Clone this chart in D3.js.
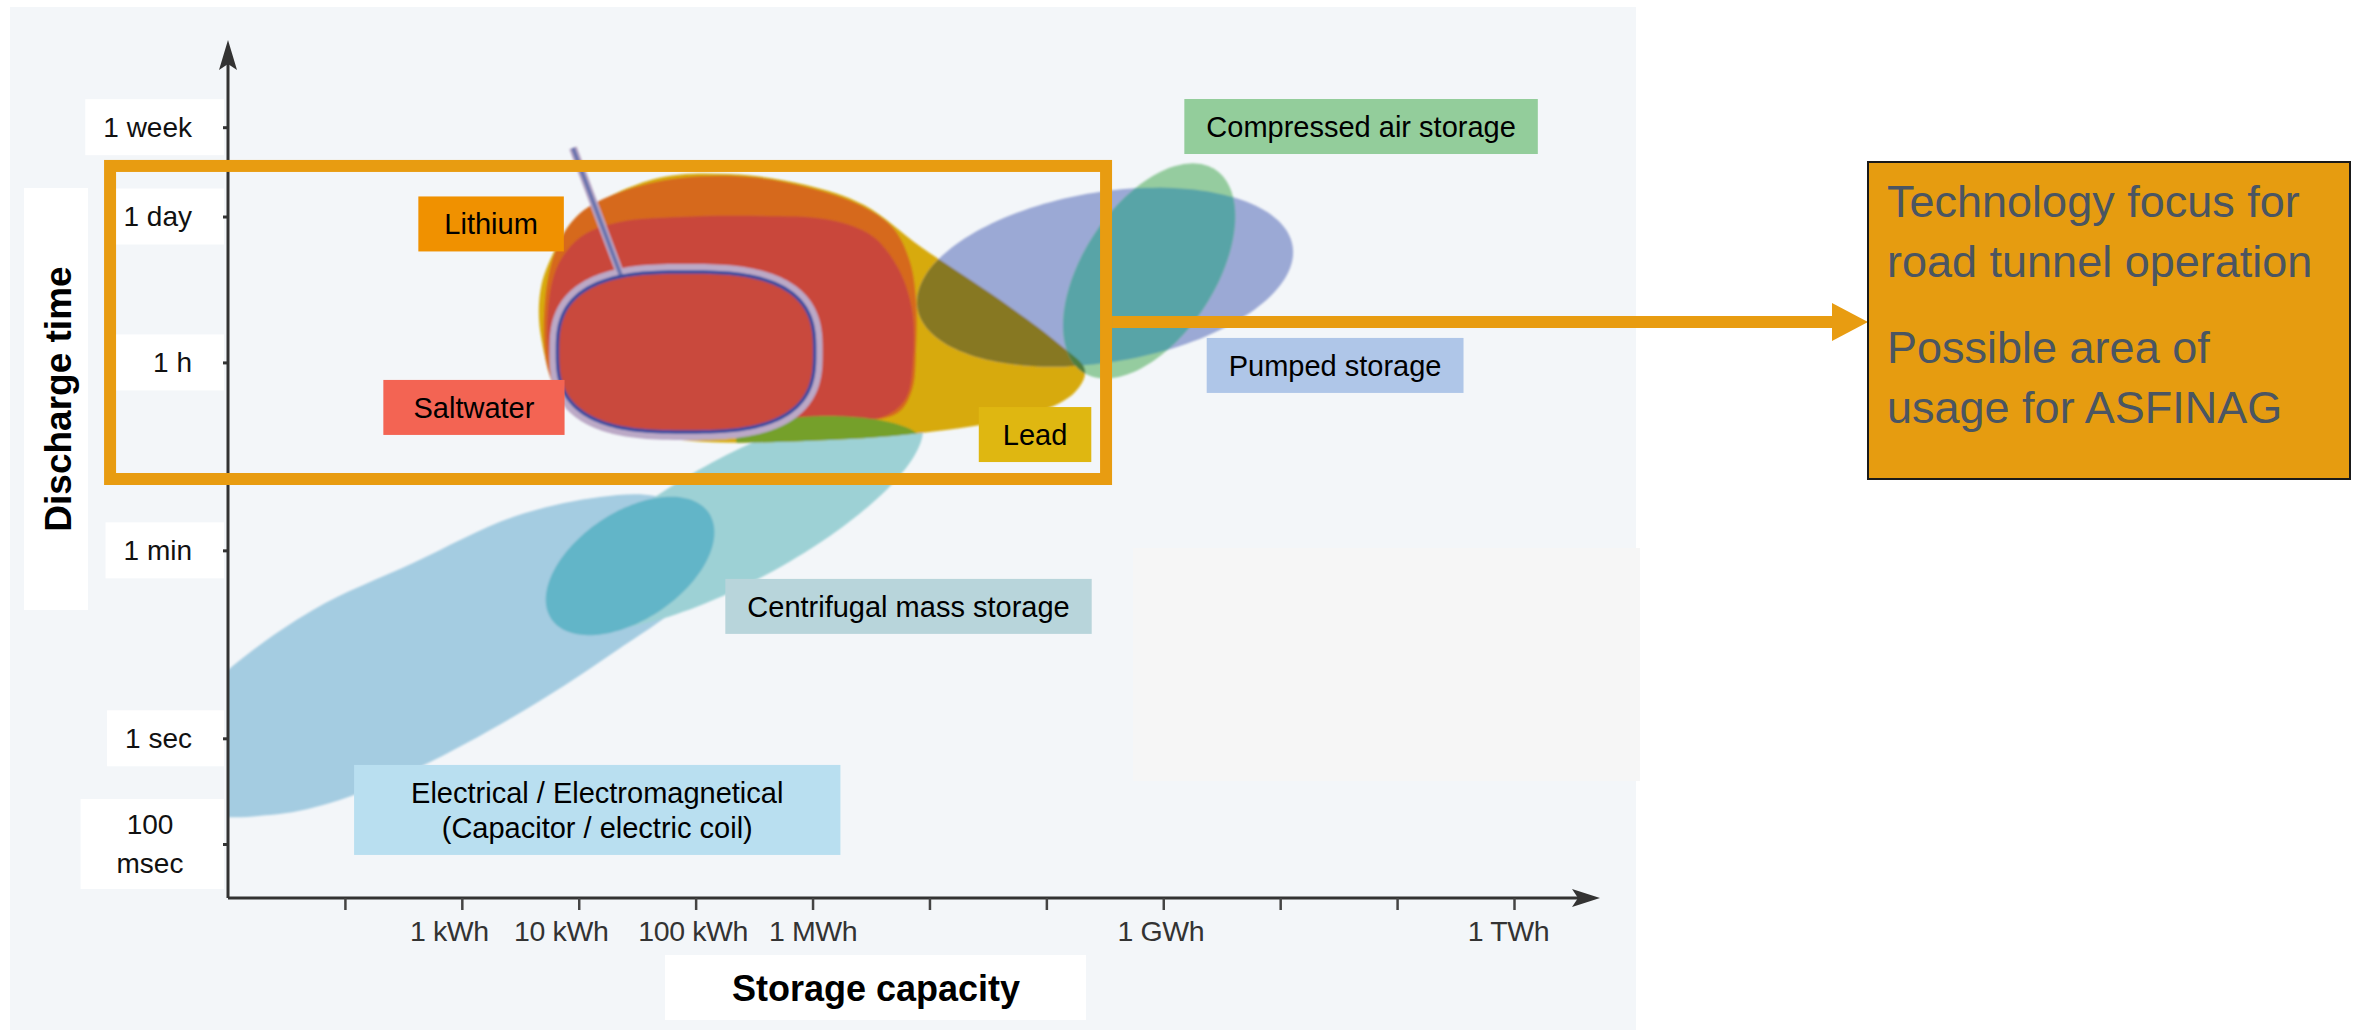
<!DOCTYPE html>
<html>
<head>
<meta charset="utf-8">
<script src="https://cdn.jsdelivr.net/npm/d3@7"></script>
<style>
  html, body { margin: 0; padding: 0; background: #ffffff; }
  svg { display: block; font-family: "Liberation Sans", Arial, sans-serif; }
</style>
</head>
<body>
<svg id="chart" width="2354" height="1036"></svg>
<script>
// ---------- data ----------
// storage capacity axis (Wh): one tick per decade, labels on some of them
const capacityTicks = [1e2, 1e3, 1e4, 1e5, 1e6, 1e7, 1e8, 1e9, 1e10, 1e11, 1e12];
const capacityLabels = { 1e3: "1 kWh", 1e4: "10 kWh", 1e5: "100 kWh", 1e6: "1 MWh", 1e9: "1 GWh", 1e12: "1 TWh" };

// discharge time axis (seconds)
const durationTicks = [0.1, 1, 60, 3600, 86400, 604800];
const durationLabels = [["100", "msec"], ["1 sec"], ["1 min"], ["1 h"], ["1 day"], ["1 week"]];

// elliptical technology regions: centre (Wh, s), half axes in decades, tilt in degrees
const flywheelSpan = { capacity: 2.4e5, duration: 121,    major: 1.80,  minor: 0.574, tilt: 31.5 };
const flywheelCore = { capacity: 2.75e4, duration: 42.7,  major: 0.842, minor: 0.491, tilt: 39.4 };
const pumped       = { capacity: 3.18e8, duration: 2.31e4, major: 1.631, minor: 0.802, tilt: 11 };
const compressed   = { capacity: 7.57e8, duration: 2.64e4, major: 1.115, minor: 0.580, tilt: 61.5 };
// where the flywheel band runs under the lead region
const leadFlywheel = { capacity: 1.36e6, duration: 664,   major: 0.787, minor: 0.227, tilt: 0 };

// outlined regions as [Wh, s]
const electricalOutline = [
  [10, 4.43], [53.3, 16.4], [383, 45.5], [2740, 124], [1.52e4, 192], [4.5e4, 196],
  [1.09e5, 130], [1.38e5, 60.4], [8.95e4, 22.7], [1.96e4, 6.41], [2740, 1.59], [383, 0.50],
  [74.6, 0.244], [22.9, 0.188], [7.0, 0.201], [4.29, 0.50], [5.22, 2.07]
];
const leadOutline = [
  [9.66e3, 8.55e4], [4.33e4, 1.95e5], [1.97e5, 2.18e5], [8.79e5, 1.72e5], [2.76e6, 1.11e5],
  [8.47e6, 4.45e4], [4.02e7, 1.40e4], [1.31e8, 5.26e3], [2.14e8, 3.05e3], [1.76e8, 1.89e3],
  [8.17e7, 1.20e3], [8.47e6, 773], [8.79e5, 650], [9.14e4, 650], [2.05e4, 863],
  [7.64e3, 1.46e3], [4.76e3, 6.27e3], [4.76e3, 1.86e4], [6.52e3, 4.55e4]
];
const lithiumOutline = [
  [5.15e3, 1.40e4], [6.52e3, 4.45e4], [1.03e4, 9.33e4], [2.25e4, 1.47e5], [7.36e4, 2.00e5],
  [2.92e5, 2.04e5], [9.53e5, 1.61e5], [2.55e6, 1.11e5], [4.89e6, 6.73e4], [6.82e6, 3.21e4],
  [7.67e6, 1.40e4], [7.67e6, 4.72e3], [7.10e6, 1.97e3], [5.38e6, 1.20e3], [2.09e6, 960],
  [5.27e5, 773], [1.09e5, 710], [2.25e4, 826], [8.43e3, 1.28e3], [5.46e3, 3.05e3]
];
const lithiumCoreOutline = [
  [5.46e3, 1.13e4], [6.65e3, 3.01e4], [1.07e4, 5.65e4], [2.25e4, 7.67e4], [7.36e4, 8.55e4],
  [3.56e5, 8.73e4], [1.41e6, 8.00e4], [3.23e6, 5.65e4], [5.38e6, 2.81e4], [7.10e6, 1.13e4],
  [7.24e6, 3.79e3], [6.31e6, 1.66e3], [4.17e6, 1.12e3], [1.41e6, 960], [2.92e5, 791],
  [4.95e4, 791], [1.52e4, 1.03e3], [7.64e3, 1.66e3], [5.68e3, 3.79e3]
];
// saltwater: rounded region, centre (Wh, s) and half spans in decades
const saltwater = { capacity: 8.28e4, duration: 4.52e3, major: 1.10, minor: 0.757, power: 2.8 };
const saltwaterLeader = [[2.30e4, 2.37e4], [8.93e3, 3.85e5]];

// focus area (Wh, s)
const focusCapacity = [0.98, 3.24e8];
const focusDuration = [284, 2.6e5];

// technology labels and where their tags sit (Wh, s)
const techNames = ["Lithium", "Saltwater", "Lead", "Compressed air storage", "Pumped storage",
  "Centrifugal mass storage", ["Electrical / Electromagnetical", "(Capacitor / electric coil)"]];
const techAnchors = [[1.78e3, 7.35e4], [1.27e3, 1.35e3], [8.0e7, 748], [4.92e10, 6.14e5],
  [2.95e10, 3.37e3], [6.62e6, 17.7], [1.44e4, 0.21]];

const focusNote = [["Technology focus for", "road tunnel operation"], ["Possible area of", "usage for ASFINAG"]];
const axisTitles = { x: "Storage capacity", y: "Discharge time" };

// ---------- styles ----------
const tagFills = ["#f09100", "#f36453", "#dfb711", "#93cd9b", "#afc6e8", "#b8d5db", "#b9dff0"];
const tagPad = [26, 30, 24, 22, 22, 22, 57];
const col = {
  panel: "#f3f6f9", electrical: "#a4cce1", span: "#9dd1d5", core: "#62b5c8",
  lead: "#d7aa0c", leadSpan: "#74a02b", lithium: "#d6691d", lithiumCore: "#c9473b",
  saltHalo: "#bba9c6", saltFill: "#c9483d", saltLine: "#3b4b9f", leader: "#6a73ad",
  pumped: "#9ba9d5", compressed: "#95cc9f", leadPumped: "#877822",
  pumpedCompressed: "#59a4a7", leadCompressed: "#4f7d3e", orange: "#e89c11", axis: "#333"
};
const xNudge = { 1e3: -13, 1e4: -18, 1e5: -3, 1e9: -3, 1e12: -6 };

// ---------- layout ----------
const frame = { left: 228, bottom: 898, right: 1600, top: 40 };
const x = d3.scaleLog().domain([10, 1e12]).range([228, 1514]);
const y = d3.scaleLog().domain([0.1, 604800]).range([844, 127.2]);

const svg = d3.select("#chart");
const defs = svg.append("defs");

// page background and light panel
svg.append("rect").attr("width", 2354).attr("height", 1036).attr("fill", "#fff");
svg.append("rect").attr("x", 10).attr("y", 7).attr("width", 1626).attr("height", 1023).attr("fill", col.panel);
svg.append("rect").attr("x", 1133).attr("y", 548).attr("width", 507).attr("height", 233).attr("fill", "#f6f6f6");

// ---------- shape helpers ----------
function ellipsePoints(e, n = 160) {
  const lc = Math.log10(e.capacity), ld = Math.log10(e.duration), t = e.tilt * Math.PI / 180;
  return d3.range(n).map(i => {
    const a = i / n * 2 * Math.PI;
    const u = e.major * Math.cos(a), v = e.minor * Math.sin(a);
    return [Math.pow(10, lc + u * Math.cos(t) - v * Math.sin(t)),
            Math.pow(10, ld + u * Math.sin(t) + v * Math.cos(t))];
  });
}
function superellipsePoints(s, n = 200) {
  const lc = Math.log10(s.capacity), ld = Math.log10(s.duration), p = 2 / s.power;
  return d3.range(n).map(i => {
    const a = i / n * 2 * Math.PI, c = Math.cos(a), sn = Math.sin(a);
    return [Math.pow(10, lc + s.major * Math.sign(c) * Math.pow(Math.abs(c), p)),
            Math.pow(10, ld + s.minor * Math.sign(sn) * Math.pow(Math.abs(sn), p))];
  });
}
const polyLine = d3.line().x(d => x(d[0])).y(d => y(d[1])).curve(d3.curveLinearClosed);
const smoothLine = d3.line().x(d => x(d[0])).y(d => y(d[1])).curve(d3.curveCatmullRomClosed.alpha(0.5));

const paths = {
  electrical: smoothLine(electricalOutline),
  span: polyLine(ellipsePoints(flywheelSpan)),
  core: polyLine(ellipsePoints(flywheelCore)),
  leadFlywheel: polyLine(ellipsePoints(leadFlywheel)),
  pumped: polyLine(ellipsePoints(pumped)),
  compressed: polyLine(ellipsePoints(compressed)),
  lead: smoothLine(leadOutline),
  lithium: smoothLine(lithiumOutline),
  lithiumCore: smoothLine(lithiumCoreOutline),
  saltwater: polyLine(superellipsePoints(saltwater))
};

// clip paths
defs.append("clipPath").attr("id", "plotClip").append("rect")
  .attr("x", frame.left).attr("y", 0).attr("width", frame.right - frame.left).attr("height", frame.bottom);
["lead", "pumped"].forEach(k => defs.append("clipPath").attr("id", "clip-" + k).append("path").attr("d", paths[k]));
const soft = defs.append("filter").attr("id", "soft").attr("filterUnits", "userSpaceOnUse")
  .attr("x", 0).attr("y", 0).attr("width", 2354).attr("height", 1036);
soft.append("feGaussianBlur").attr("stdDeviation", 0.9);

// ---------- white label boxes on the axes ----------
const axisBoxes = svg.append("g");
axisBoxes.append("rect").attr("x", 24).attr("y", 188).attr("width", 64).attr("height", 422).attr("fill", "#fff");
axisBoxes.append("rect").attr("x", 665).attr("y", 955).attr("width", 421).attr("height", 65).attr("fill", "#fff");

// ---------- technology regions ----------
const blobs = svg.append("g").attr("clip-path", "url(#plotClip)").append("g").attr("filter", "url(#soft)");
const draw = (d, fill, clip) => {
  const p = blobs.append("path").attr("d", d).attr("fill", fill);
  if (clip) p.attr("clip-path", `url(#clip-${clip})`);
  return p;
};
draw(paths.electrical, col.electrical);
draw(paths.span, col.span);
draw(paths.core, col.core);
draw(paths.lead, col.lead);
draw(paths.lithium, col.lithium);
draw(paths.lithiumCore, col.lithiumCore);
draw(paths.leadFlywheel, col.leadSpan, "lead");
// saltwater: pale halo, red fill, blue outline
const leaderPath = d3.line().x(d => x(d[0])).y(d => y(d[1]))(saltwaterLeader);
blobs.append("path").attr("d", paths.saltwater).attr("fill", "none")
  .attr("stroke", col.saltHalo).attr("stroke-width", 16).attr("stroke-linejoin", "round");
blobs.append("path").attr("d", paths.saltwater).attr("fill", col.saltFill);
blobs.append("path").attr("d", leaderPath).attr("stroke", col.saltHalo).attr("stroke-width", 8).attr("fill", "none");
blobs.append("path").attr("d", leaderPath).attr("stroke", col.leader).attr("stroke-width", 4).attr("fill", "none");
blobs.append("path").attr("d", paths.saltwater).attr("fill", "none")
  .attr("stroke", col.saltLine).attr("stroke-width", 3.5);
draw(paths.pumped, col.pumped);
draw(paths.pumped, col.leadPumped, "lead");
draw(paths.compressed, col.compressed);
draw(paths.compressed, col.pumpedCompressed, "pumped");
draw(paths.compressed, col.leadCompressed, "lead");

// ---------- axes ----------
const axes = svg.append("g");
axes.append("line").attr("x1", frame.left).attr("y1", frame.bottom).attr("x2", frame.left).attr("y2", frame.top + 20)
  .attr("stroke", col.axis).attr("stroke-width", 3);
axes.append("path").attr("d", `M${frame.left},${frame.top} L${frame.left - 9},${frame.top + 30} L${frame.left},${frame.top + 24} L${frame.left + 9},${frame.top + 30} Z`)
  .attr("fill", col.axis);
axes.append("line").attr("x1", frame.left).attr("y1", frame.bottom).attr("x2", frame.right - 20).attr("y2", frame.bottom)
  .attr("stroke", col.axis).attr("stroke-width", 3);
axes.append("path").attr("d", `M${frame.right},${frame.bottom} L${frame.right - 28},${frame.bottom - 9} L${frame.right - 22},${frame.bottom} L${frame.right - 28},${frame.bottom + 9} Z`)
  .attr("fill", col.axis);

const gx = svg.append("g").attr("transform", `translate(0,${frame.bottom})`)
  .call(d3.axisBottom(x).tickValues(capacityTicks).tickSize(12).tickPadding(11)
    .tickFormat(d => capacityLabels[d] || ""));
gx.select(".domain").remove();
gx.selectAll(".tick line").attr("stroke", "#444").attr("stroke-width", 2.5);
gx.selectAll(".tick text").attr("font-size", 28.5).attr("fill", "#333")
  .attr("font-family", "Liberation Sans, Arial, sans-serif").attr("letter-spacing", -0.4)
  .attr("dx", d => xNudge[d] || 0);

// y labels in white tags
const yTags = svg.append("g");
durationTicks.forEach((v, i) => {
  const lines = durationLabels[i], cy = y(v);
  const g = yTags.append("g");
  const rect = g.append("rect").attr("fill", "#fff");
  const t = g.append("text").attr("font-size", 28).attr("fill", "#111");
  if (lines.length > 1) {
    t.attr("text-anchor", "middle");
    lines.forEach((s, j) => t.append("tspan").attr("x", 150).attr("y", cy + (j - 0.5) * 39).attr("dy", "0.35em").text(s));
  } else {
    t.attr("text-anchor", "end").attr("x", 192).attr("y", cy).attr("dy", "0.35em").text(lines[0]);
  }
  const bb = t.node().getBBox();
  const left = lines.length > 1 ? bb.x - 36 : Math.min(116, bb.x - 18);
  const h = lines.length > 1 ? 90 : 56;
  rect.attr("x", left).attr("y", cy - h / 2).attr("width", 224 - left).attr("height", h);
});
svg.append("g").attr("transform", `translate(${frame.left},0)`)
  .call(d3.axisLeft(y).tickValues(durationTicks).tickSize(5).tickFormat(""))
  .call(g => g.select(".domain").remove())
  .selectAll(".tick line").attr("stroke", col.axis).attr("stroke-width", 3);

// axis titles
svg.append("text").attr("x", 876).attr("y", 988).attr("dy", "0.35em").attr("text-anchor", "middle")
  .attr("font-size", 36).attr("font-weight", "bold").attr("fill", "#000").text(axisTitles.x);
svg.append("text").attr("transform", "translate(58,399) rotate(-90)").attr("dy", "0.35em")
  .attr("text-anchor", "middle").attr("font-size", 37).attr("font-weight", "bold").attr("fill", "#000")
  .text(axisTitles.y);

// ---------- focus area ----------
svg.append("rect")
  .attr("x", x(focusCapacity[0])).attr("y", y(focusDuration[1]))
  .attr("width", x(focusCapacity[1]) - x(focusCapacity[0]))
  .attr("height", y(focusDuration[0]) - y(focusDuration[1]))
  .attr("fill", "none").attr("stroke", col.orange).attr("stroke-width", 12);

// ---------- technology tags ----------
const tags = svg.append("g");
techNames.forEach((name, i) => {
  const [cx, cy] = [x(techAnchors[i][0]), y(techAnchors[i][1])];
  const lines = Array.isArray(name) ? name : [name];
  const g = tags.append("g");
  const rect = g.append("rect").attr("fill", tagFills[i]);
  const t = g.append("text").attr("font-size", 29).attr("fill", "#000").attr("text-anchor", "middle");
  lines.forEach((s, j) => t.append("tspan").attr("x", cx)
    .attr("y", cy + (j - (lines.length - 1) / 2) * 35).attr("dy", "0.35em").text(s));
  const w = t.node().getBBox().width + 2 * tagPad[i];
  const h = lines.length > 1 ? 90 : 55;
  rect.attr("x", cx - w / 2).attr("y", cy - h / 2).attr("width", w).attr("height", h);
});

// ---------- arrow and note box ----------
const arrowY = 322;
svg.append("rect").attr("x", x(focusCapacity[1]) + 6).attr("y", arrowY - 6)
  .attr("width", 1832 - x(focusCapacity[1]) - 6).attr("height", 12).attr("fill", col.orange);
svg.append("path").attr("d", `M1832,${arrowY - 19} L1868,${arrowY} L1832,${arrowY + 19} Z`).attr("fill", col.orange);
svg.append("rect").attr("x", 1868).attr("y", 162).attr("width", 482).attr("height", 317)
  .attr("fill", "#e69c10").attr("stroke", "#1a1a1a").attr("stroke-width", 2);
const note = svg.append("text").attr("font-size", 45).attr("fill", "#4a5562");
const baselines = [[217, 277], [363, 423]];
focusNote.forEach((para, p) => para.forEach((s, j) =>
  note.append("tspan").attr("x", 1887).attr("y", baselines[p][j]).text(s)));
</script>
</body>
</html>
